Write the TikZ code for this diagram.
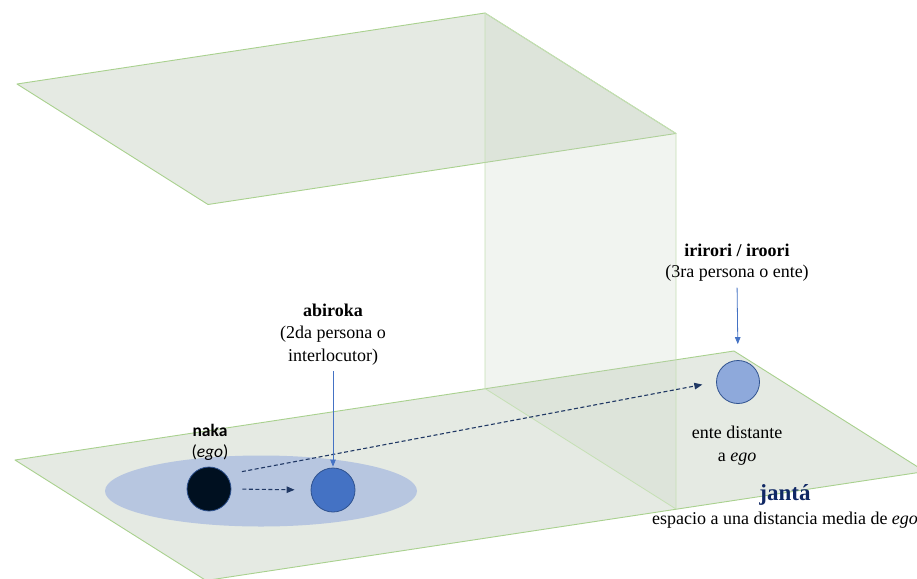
\documentclass[tikz,border=0pt]{standalone}
\usepackage{fontspec}
\setmainfont{Liberation Serif}
\newfontfamily\timesface{Liberation Serif}
\newfontfamily\calibriface{Carlito}
\usetikzlibrary{arrows.meta,shapes.geometric}
\definecolor{planefill}{RGB}{195,207,190}
\definecolor{planeedge}{RGB}{169,209,142}
\definecolor{walledge}{RGB}{197,224,180}
\definecolor{zonefill}{RGB}{183,198,224}
\definecolor{egofill}{RGB}{0,16,32}
\definecolor{youfill}{RGB}{68,114,196}
\definecolor{thirdfill}{RGB}{142,169,219}
\definecolor{circleedge}{RGB}{47,82,143}
\definecolor{navy}{RGB}{32,56,100}
\definecolor{pointer}{RGB}{68,114,196}
\definecolor{titlenavy}{RGB}{16,40,100}
\tikzset{
  plane/.style={fill=planefill, fill opacity=0.42, draw=planeedge, line width=0.9pt, line join=round},
  wall/.style={fill=planefill, fill opacity=0.22, draw=walledge, line width=0.8pt, line join=round},
  person/.style={circle, minimum size=44pt, inner sep=0pt, draw=circleedge, line width=0.8pt},
  textline/.style={anchor=base, inner sep=0pt, font=\timesface\fontsize{18}{22}\selectfont},
  sansline/.style={anchor=base, inner sep=0pt, font=\calibriface\fontsize{17.5}{21}\selectfont},
  dasharrow/.style={draw=navy, line width=1.1pt, dash pattern=on 4pt off 2.5pt,
    -{Triangle[length=8pt,width=6.5pt]}},
  pointarrow/.style={draw=pointer, line width=0.8pt, -{Triangle[length=7pt,width=5.5pt]}}
}
\begin{document}
\begin{tikzpicture}[x=1pt,y=-1pt]
  \clip (0,0) rectangle (917,578);
  \fill[white] (0,0) rectangle (917,578);

  % ground plane
  \draw[plane] (15,460) -- (734,351) -- (925,471.5) -- (206,580.5) -- cycle;
  % upper plane
  \draw[plane] (17,84) -- (485,13) -- (676,133.5) -- (208,204.5) -- cycle;
  % vertical wall joining both planes
  \draw[wall] (485,13) -- (676,133.5) -- (676,509) -- (485,388.5) -- cycle;

  % near zone around ego
  \node[ellipse, minimum width=312pt, minimum height=71pt, inner sep=0pt, fill=zonefill] (zone) at (261,491) {};

  % persons
  \node[person, fill=egofill] (ego) at (209,489) {};
  \node[person, fill=youfill] (you) at (333,490) {};
  \node[person, fill=thirdfill, minimum size=43pt] (third) at (738,382) {};

  % labels of ego
  \node[sansline] (naka) at (210,436) {\bfseries naka};
  \node[sansline] (nakaego) at (210,457) {(\textit{ego})};
  % labels of the interlocutor
  \node[textline] (abiroka) at (333,316) {\bfseries abiroka};
  \node[textline] (abiroka2) at (333,338.5) {(2da persona o};
  \node[textline] (abiroka3) at (333,361) {interlocutor)};
  % labels of the distant entity
  \node[textline] (irirori) at (737,256) {\bfseries irirori / iroori};
  \node[textline] (irirori2) at (737,277.5) {(3ra persona o ente)};
  \node[textline] (dist) at (737,438) {ente distante};
  \node[textline] (dist2) at (737,461) {a \textit{ego}};
  % name of the middle-distance space
  \node[textline, font=\timesface\fontsize{23}{27}\selectfont\bfseries, text=titlenavy] (janta) at (785,500) {jantá};
  \node[textline] (jantadesc) at (785,524.5) {espacio a una distancia media de \textit{ego}};

  % connectors
  \draw[dasharrow, shorten <=11pt, shorten >=16pt] (ego.east) -- (you.west);
  \draw[dasharrow, shorten <=16pt, shorten >=14pt] (ego.40) -- (third.west);
  \draw[pointarrow, shorten <=6pt, shorten >=1pt] (abiroka3.south) -- (you.north);
  \draw[pointarrow, shorten <=6pt, shorten >=16pt] (irirori2.south) -- (third.north);
\end{tikzpicture}
\end{document}
